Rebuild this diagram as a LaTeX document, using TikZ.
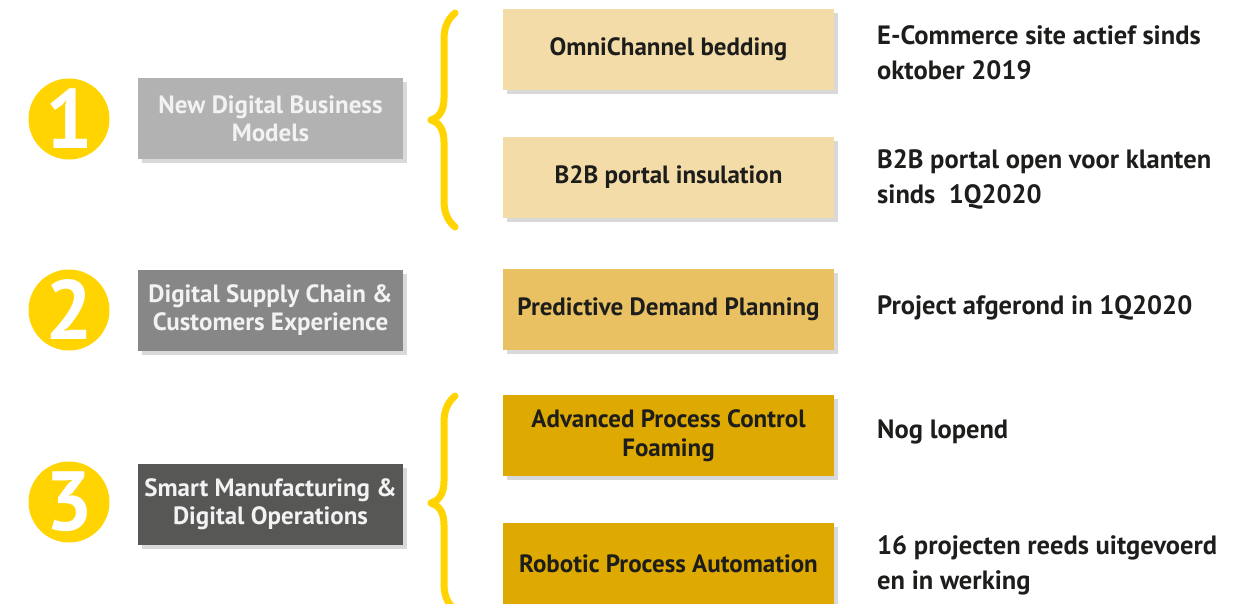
\documentclass[tikz,border=0pt]{standalone}
\usepackage{fontspec}
\setmainfont{PT Sans}
\usetikzlibrary{shadows}

\definecolor{dotyellow}{HTML}{FFD400}
\definecolor{greyA}{HTML}{B2B2B2}
\definecolor{greyB}{HTML}{878787}
\definecolor{greyC}{HTML}{575756}
\definecolor{tanA}{HTML}{F3DCA8}
\definecolor{tanB}{HTML}{E9C163}
\definecolor{tanC}{HTML}{DEA900}
\definecolor{ink}{HTML}{1D1D1B}

\tikzset{
  numdot/.style={circle, fill=dotyellow, minimum size=81pt, inner sep=0pt,
    text=white, font=\bfseries\fontsize{84}{84}\selectfont},
  catbox/.style={rectangle, minimum width=265pt, minimum height=81pt, inner sep=0pt,
    align=center, text=white!95!black, font=\bfseries\fontsize{25}{28}\selectfont,
    drop shadow={shadow xshift=4pt, shadow yshift=-4pt, opacity=0.3}},
  projbox/.style={rectangle, minimum width=331pt, minimum height=81pt, inner sep=0pt,
    align=center, text=ink, font=\bfseries\fontsize{25}{29}\selectfont,
    drop shadow={shadow xshift=4pt, shadow yshift=-4pt, opacity=0.3}},
  stattext/.style={anchor=west, inner sep=0pt, align=left, text=ink,
    font=\bfseries\fontsize{26.5}{35}\selectfont},
  curly/.style={draw=dotyellow, line width=7pt, line cap=round, line join=round}
}

\begin{document}
\begin{tikzpicture}[x=1pt, y=-1pt]
    \useasboundingbox (0,0) rectangle (1253,603);

    % Numbers
    \foreach \n/\y in {1/119, 2/310, 3/502}
        \node[numdot] (num\n) at (69,\y) {\n};

    % Categories
    \node[catbox, fill=greyA] (cat1) at (270.5,118.5) {New Digital Business\\Models};
    \node[catbox, fill=greyB] (cat2) at (270.5,310.5) {Digital Supply Chain \&\\Customers Experience};
    \node[catbox, fill=greyC] (cat3) at (270.5,504.5) {Smart Manufacturing \&\\Digital Operations};

    % Braces
    \foreach \ty in {120, 503}
        \draw[curly] (455,{\ty-107}) .. controls (447,{\ty-100}) and (444,{\ty-92}) .. (444,{\ty-80})
            -- (444,{\ty-22}) .. controls (444,{\ty-8}) and (438,{\ty-2}) .. (431,\ty)
            .. controls (438,{\ty+2}) and (444,{\ty+8}) .. (444,{\ty+22})
            -- (444,{\ty+80}) .. controls (444,{\ty+92}) and (447,{\ty+100}) .. (455,{\ty+107});

    % Projects
    \node[projbox, fill=tanA] (omni) at (668.5,49.5) {OmniChannel bedding};
    \node[projbox, fill=tanA] (btob) at (668.5,177) {B2B portal insulation};
    \node[projbox, fill=tanB] (pdp) at (668.5,309.5) {Predictive Demand Planning};
    \node[projbox, fill=tanC] (apc) at (668.5,435.5) {Advanced Process Control\\Foaming};
    \node[projbox, fill=tanC] (rpa) at (668.5,563.5) {Robotic Process Automation};

    % Status
    \node[stattext] (omnistat) at (877,53) {E-Commerce site actief sinds\\oktober 2019};
    \node[stattext] (btobstat) at (877,179.5) {B2B portal open voor klanten\\sinds\ \ 1Q2020};
    \node[stattext] (pdpstat) at (877,308) {Project afgerond in 1Q2020};
    \node[stattext] (apcstat) at (877,432) {Nog lopend};
    \node[stattext] (rpastat) at (877,565.5) {16 projecten reeds uitgevoerd\\en in werking};
\end{tikzpicture}
\end{document}
